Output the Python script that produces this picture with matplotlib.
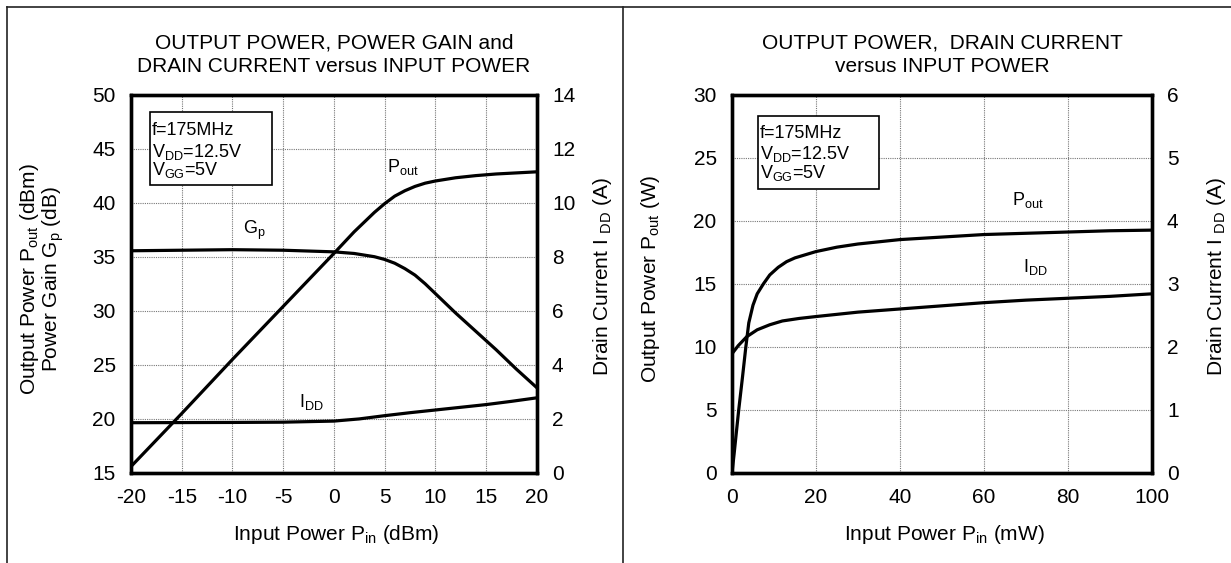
import matplotlib
matplotlib.use("Agg")
import matplotlib.pyplot as plt
from matplotlib.patches import Rectangle
from matplotlib.lines import Line2D

plt.rcParams['font.family'] = ['Liberation Sans', 'DejaVu Sans']
plt.rcParams['mathtext.fontset'] = 'custom'
plt.rcParams['mathtext.rm'] = 'Liberation Sans'
plt.rcParams['mathtext.it'] = 'Liberation Sans'
plt.rcParams['mathtext.default'] = 'rm'
plt.rcParams['axes.unicode_minus'] = False

# ---------------- data: left chart (dBm) ----------------
pin_dbm = [-20, -15, -10, -5, 0, 2, 4, 5, 6, 7, 8, 9, 10, 12, 14, 16, 18, 20]
pout_dbm = [15.6, 20.5, 25.5, 30.4, 35.3, 37.3, 39.1, 39.9, 40.6, 41.1, 41.5,
            41.8, 42.0, 42.3, 42.5, 42.65, 42.75, 42.85]
gp_pin = [-20, -15, -10, -5, 0, 2, 4, 5, 6, 7, 8, 9, 10, 12, 14, 16, 18, 20]
gp_db = [35.55, 35.6, 35.65, 35.6, 35.45, 35.3, 35.0, 34.75, 34.4, 33.9, 33.3,
         32.5, 31.6, 29.8, 28.1, 26.4, 24.6, 22.9]
idd_pin = [-20, -10, -5, 0, 2.5, 5, 7.5, 10, 12.5, 15, 17.5, 20]
idd_a_left = [1.86, 1.87, 1.88, 1.92, 2.0, 2.12, 2.23, 2.33, 2.43, 2.53, 2.65, 2.78]

# ---------------- data: right chart (mW / W) ----------------
pin_mw = [0, 0.5, 1, 1.6, 2.5, 3.3, 4, 5, 6, 7.5, 9, 11, 13, 15, 20, 25, 30,
          40, 50, 60, 70, 80, 90, 100]
pout_w = [0, 1.5, 3.1, 5.0, 7.6, 10.0, 11.9, 13.3, 14.2, 15.0, 15.7, 16.3,
          16.75, 17.05, 17.55, 17.9, 18.15, 18.5, 18.7, 18.9, 19.0, 19.1,
          19.2, 19.25]
idd_pin_mw = [0, 1.5, 3.5, 6, 9, 12, 16, 20, 30, 40, 50, 60, 70, 80, 90, 100]
idd_a_right = [1.89, 2.02, 2.16, 2.27, 2.35, 2.41, 2.45, 2.48, 2.55, 2.6,
               2.65, 2.7, 2.74, 2.77, 2.8, 2.84]

left_xticks = [-20, -15, -10, -5, 0, 5, 10, 15, 20]
left_yticks = [15, 20, 25, 30, 35, 40, 45, 50]
left_y2ticks = [0, 2, 4, 6, 8, 10, 12, 14]
right_xticks = [0, 20, 40, 60, 80, 100]
right_yticks = [0, 5, 10, 15, 20, 25, 30]
right_y2ticks = [0, 1, 2, 3, 4, 5, 6]

W, H = 1231, 563
fig = plt.figure(figsize=(W / 100, H / 100), dpi=100)

FS = 15
TFS = 15
LFS = 13
LW = 2.3
SPW = 2.4
grid_kw = dict(color='#777777', linestyle=(0, (1, 1)), linewidth=0.8)


def px_rect(x0, y0, x1, y1):
    return [x0 / W, 1 - y1 / H, (x1 - x0) / W, (y1 - y0) / H]


def style(ax, ax2):
    for a in (ax, ax2):
        for s in a.spines.values():
            s.set_linewidth(SPW)
        a.tick_params(length=0, labelsize=FS, pad=11)
    ax.grid(True, **grid_kw)
    ax.set_axisbelow(True)


def info_box(ax, bx0, by0, bx1, by1, tx, ty):
    ax.add_patch(Rectangle((bx0, by0), bx1 - bx0, by1 - by0, transform=ax.transAxes,
                           fill=True, facecolor='white', edgecolor='black',
                           linewidth=1.2, zorder=5))
    lines = ['f=175MHz', 'V$_{\\mathrm{DD}}$=12.5V', 'V$_{\\mathrm{GG}}$=5V']
    for t, y in zip(lines, ty):
        ax.text(tx, y, t, transform=ax.transAxes, fontsize=LFS, va='center',
                ha='left', zorder=6)


# ---------------- left chart ----------------
axL = fig.add_axes(px_rect(131, 94.5, 536.7, 473))
axL2 = axL.twinx()
axL.set_xlim(-20, 20)
axL.set_ylim(15, 50)
axL2.set_ylim(0, 14)
axL.set_xticks(left_xticks)
axL.set_yticks(left_yticks)
axL2.set_yticks(left_y2ticks)
style(axL, axL2)
axL.plot(pin_dbm, pout_dbm, color='black', lw=LW, zorder=3)
axL.plot(gp_pin, gp_db, color='black', lw=LW, zorder=3)
axL2.plot(idd_pin, idd_a_left, color='black', lw=LW, zorder=3)
axL.text(-7.8, 37.4, 'G$_{\\mathrm{p}}$', fontsize=LFS, ha='center', va='center')
axL.text(6.8, 43.3, 'P$_{\\mathrm{out}}$', fontsize=LFS, ha='center', va='center')
axL.text(-2.2, 21.6, 'I$_{\\mathrm{DD}}$', fontsize=LFS, ha='center', va='center')
info_box(axL, 0.047, 0.761, 0.347, 0.955, 0.052, [0.906, 0.849, 0.800])

fig.text(334 / W, 1 - 43 / H, 'OUTPUT POWER, POWER GAIN and', fontsize=TFS,
         ha='center', va='center')
fig.text(334 / W, 1 - 67 / H, 'DRAIN CURRENT versus INPUT POWER', fontsize=TFS,
         ha='center', va='center')
fig.text(336 / W, 1 - 534 / H, 'Input Power P$_{\\mathrm{in}}$ (dBm)', fontsize=FS,
         ha='center', va='center')
fig.text(42 / W, 1 - 279 / H,
         'Output Power P$_{\\mathrm{out}}$ (dBm)\nPower Gain G$_{\\mathrm{p}}$ (dB)',
         fontsize=FS, ha='center', va='center', rotation=90, multialignment='center',
         linespacing=0.95)
fig.text(602 / W, 1 - 277 / H, 'Drain Current I $_{\\mathrm{DD}}$ (A)', fontsize=FS,
         ha='center', va='center', rotation=90)

# ---------------- right chart ----------------
axR = fig.add_axes(px_rect(732, 94.5, 1151.7, 473))
axR2 = axR.twinx()
axR.set_xlim(0, 100)
axR.set_ylim(0, 30)
axR2.set_ylim(0, 6)
axR.set_xticks(right_xticks)
axR.set_yticks(right_yticks)
axR2.set_yticks(right_y2ticks)
style(axR, axR2)
axR.plot(pin_mw, pout_w, color='black', lw=LW, zorder=3)
axR2.plot(idd_pin_mw, idd_a_right, color='black', lw=LW, zorder=3)
axR.text(70.5, 21.6, 'P$_{\\mathrm{out}}$', fontsize=LFS, ha='center', va='center')
axR.text(72.3, 16.3, 'I$_{\\mathrm{DD}}$', fontsize=LFS, ha='center', va='center')
info_box(axR, 0.063, 0.751, 0.351, 0.943, 0.067, [0.897, 0.843, 0.792])

fig.text(942 / W, 1 - 43 / H, 'OUTPUT POWER,  DRAIN CURRENT', fontsize=TFS,
         ha='center', va='center')
fig.text(942 / W, 1 - 67 / H, 'versus INPUT POWER', fontsize=TFS,
         ha='center', va='center')
fig.text(944 / W, 1 - 534 / H, 'Input Power P$_{\\mathrm{in}}$ (mW)', fontsize=FS,
         ha='center', va='center')
fig.text(650 / W, 1 - 279 / H, 'Output Power P$_{\\mathrm{out}}$ (W)', fontsize=FS,
         ha='center', va='center', rotation=90)
fig.text(1216 / W, 1 - 277 / H, 'Drain Current I $_{\\mathrm{DD}}$ (A)', fontsize=FS,
         ha='center', va='center', rotation=90)

# ---------------- frame lines ----------------
bw = 1.2
fig.add_artist(Line2D([6.7 / W, 1], [1 - 6.7 / H, 1 - 6.7 / H], color='#222222', lw=bw))
fig.add_artist(Line2D([6.7 / W, 6.7 / W], [0, 1 - 6.7 / H], color='#222222', lw=bw))
fig.add_artist(Line2D([623.3 / W, 623.3 / W], [0, 1 - 6.7 / H], color='#222222', lw=bw))

fig.savefig('out.png', dpi=100)
